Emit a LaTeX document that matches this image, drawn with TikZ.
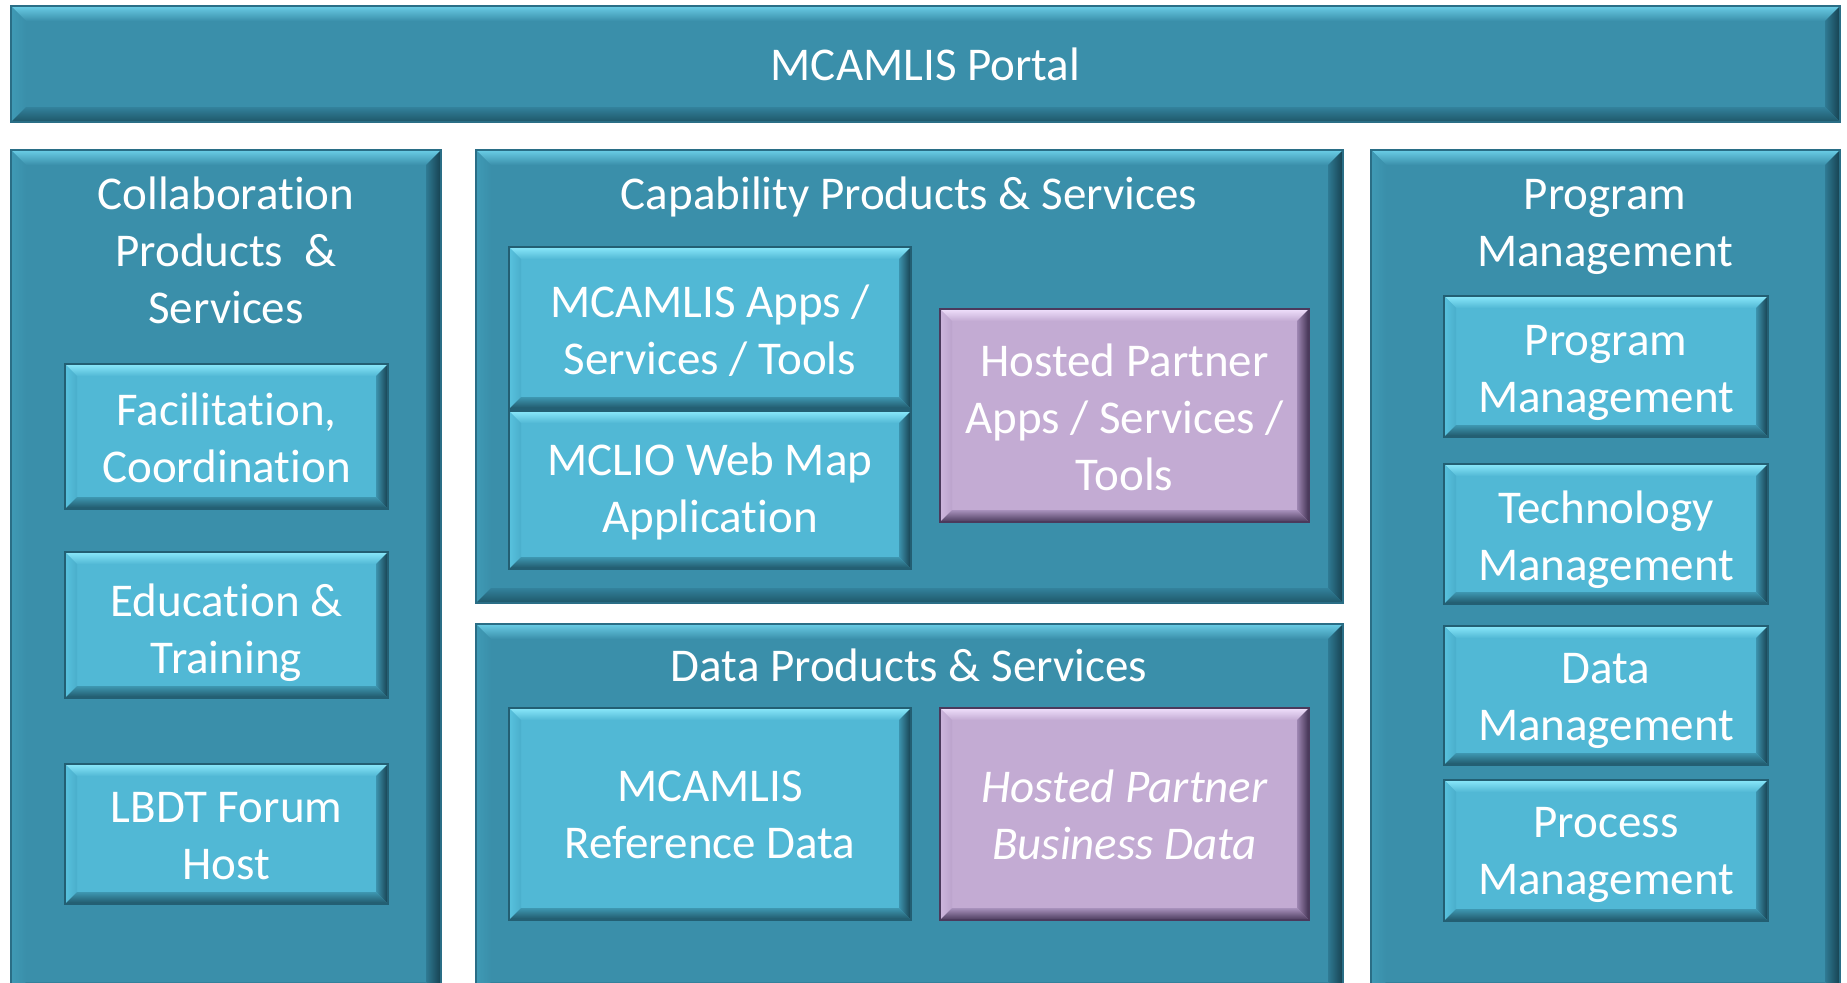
\documentclass[tikz,border=0pt]{standalone}
\usepackage{fontspec}
\setmainfont[RawFeature={-liga;-clig;-dlig;-calt;-hlig}]{Carlito}
\definecolor{tB}{HTML}{3A8FAA}
\definecolor{tH}{HTML}{6ACDE6}
\definecolor{tL1}{HTML}{3F9AB5}
\definecolor{tL2}{HTML}{3A8FAA}
\definecolor{tR1}{HTML}{16404F}
\definecolor{tR2}{HTML}{2F7A93}
\definecolor{tD1}{HTML}{1E5668}
\definecolor{tD2}{HTML}{33829C}
\definecolor{tO}{HTML}{2A6E86}
\definecolor{cB}{HTML}{51B8D5}
\definecolor{cH}{HTML}{8AE8FA}
\definecolor{cL1}{HTML}{58C2DE}
\definecolor{cL2}{HTML}{4AAECB}
\definecolor{cR1}{HTML}{173F4E}
\definecolor{cR2}{HTML}{3C93AE}
\definecolor{cD1}{HTML}{1F5567}
\definecolor{cD2}{HTML}{3E97B1}
\definecolor{cO}{HTML}{235F73}
\definecolor{pB}{HTML}{C3ABD3}
\definecolor{pH}{HTML}{F0E0FC}
\definecolor{pL1}{HTML}{CDB6DD}
\definecolor{pL2}{HTML}{BBA3CC}
\definecolor{pR1}{HTML}{3F3050}
\definecolor{pR2}{HTML}{9E86B2}
\definecolor{pD1}{HTML}{4A3A5C}
\definecolor{pD2}{HTML}{A891BC}
\definecolor{pO}{HTML}{4B3A5C}
\newcommand\bevbox[7]{%
  \fill[#6B] (#2,#3) rectangle (#4,#5);
  \shade[top color=#6H, bottom color=#6B] (#2,#3) -- (#4,#3) -- ({#4-#7},{#3+#7}) -- ({#2+#7},{#3+#7}) -- cycle;
  \shade[left color=#6L1, right color=#6L2] (#2,#3) -- ({#2+#7},{#3+#7}) -- ({#2+#7},{#5-#7}) -- (#2,#5) -- cycle;
  \shade[left color=#6R2, right color=#6R1] (#4,#3) -- ({#4-#7},{#3+#7}) -- ({#4-#7},{#5-#7}) -- (#4,#5) -- cycle;
  \shade[top color=#6D2, bottom color=#6D1] (#2,#5) -- ({#2+#7},{#5-#7}) -- ({#4-#7},{#5-#7}) -- (#4,#5) -- cycle;
  \draw[#6O, line width=1.2] (#2,#3) rectangle (#4,#5);
  \coordinate (#1) at ({(#2+#4)/2},{(#3+#5)/2});
}
\tikzset{
  txt/.style={text=white, align=center, inner sep=0pt,
    font=\fontsize{23.5}{28.5}\selectfont},
}
\begin{document}
\begin{tikzpicture}[x=0.5pt,y=-0.5pt]
\clip (0,0) rectangle (1847,982);
\fill[white] (0,0) rectangle (1847,982);
% outer boxes
\bevbox{portal}{11}{6}{1840}{122}{t}{15}
\bevbox{collab}{11}{150}{441}{997}{t}{15}
\bevbox{capab}{476}{150}{1343}{603}{t}{15}
\bevbox{data}{476}{624}{1343}{997}{t}{15}
\bevbox{progm}{1371}{150}{1840}{997}{t}{15}
% left inner
\bevbox{facil}{65}{364}{388}{509}{c}{12}
\bevbox{educ}{65}{552}{388}{698}{c}{12}
\bevbox{lbdt}{65}{764}{388}{904}{c}{12}
% middle inner
\bevbox{apps}{509}{247}{911}{409}{c}{12}
\bevbox{mclio}{509}{411}{911}{569}{c}{12}
\bevbox{hpapps}{940}{309}{1309}{522}{p}{12}
\bevbox{refd}{509}{708}{911}{920}{c}{12}
\bevbox{hpbus}{940}{708}{1309}{920}{p}{12}
% right inner
\bevbox{pm}{1444}{296}{1768}{437}{c}{12}
\bevbox{tm}{1444}{464}{1768}{604}{c}{12}
\bevbox{dm}{1444}{626}{1768}{765}{c}{12}
\bevbox{prm}{1444}{780}{1768}{921}{c}{12}
% texts
\node[txt] (t-portal) at (portal) {MCAMLIS Portal};
\node[txt] (t-collab) at (226,250) {Collaboration\\Products~~\&\\Services};
\node[txt] (t-capab) at (909,197) {Capability Products \& Services};
\node[txt] (t-data) at (909,665) {Data Products \& Services};
\node[txt] (t-progm) at (1605,227) {Program\\Management};
\node[txt] (t-facil) at ([yshift=-0.8pt]facil) {Facilitation,\\Coordination};
\node[txt] (t-educ) at ([yshift=-3.8pt]educ) {Education \&\\Training};
\node[txt] (t-lbdt) at ([yshift=-0.8pt]lbdt) {LBDT Forum\\Host};
\node[txt] (t-apps) at ([yshift=-1.2pt]apps) {MCAMLIS Apps /\\Services / Tools};
\node[txt] (t-mclio) at ([yshift=-0.8pt]mclio) {MCLIO Web Map\\Application};
\node[txt] (t-hpapps) at ([yshift=-0.8pt]hpapps) {Hosted Partner\\Apps / Services /\\Tools};
\node[txt] (t-refd) at ([yshift=-0.5pt]refd) {MCAMLIS\\Reference Data};
\node[txt, font=\fontsize{23.5}{28.5}\selectfont\itshape] (t-hpbus) at ([yshift=-0.5pt]hpbus) {Hosted Partner\\Business Data};
\node[txt] (t-pm) at ([yshift=-3pt]pm) {Program\\Management};
\node[txt] (t-tm) at ([yshift=-3pt]tm) {Technology\\Management};
\node[txt] (t-dm) at ([yshift=-2.5pt]dm) {Data\\Management};
\node[txt] (t-prm) at ([yshift=-2pt]prm) {Process\\Management};
\end{tikzpicture}
\end{document}
